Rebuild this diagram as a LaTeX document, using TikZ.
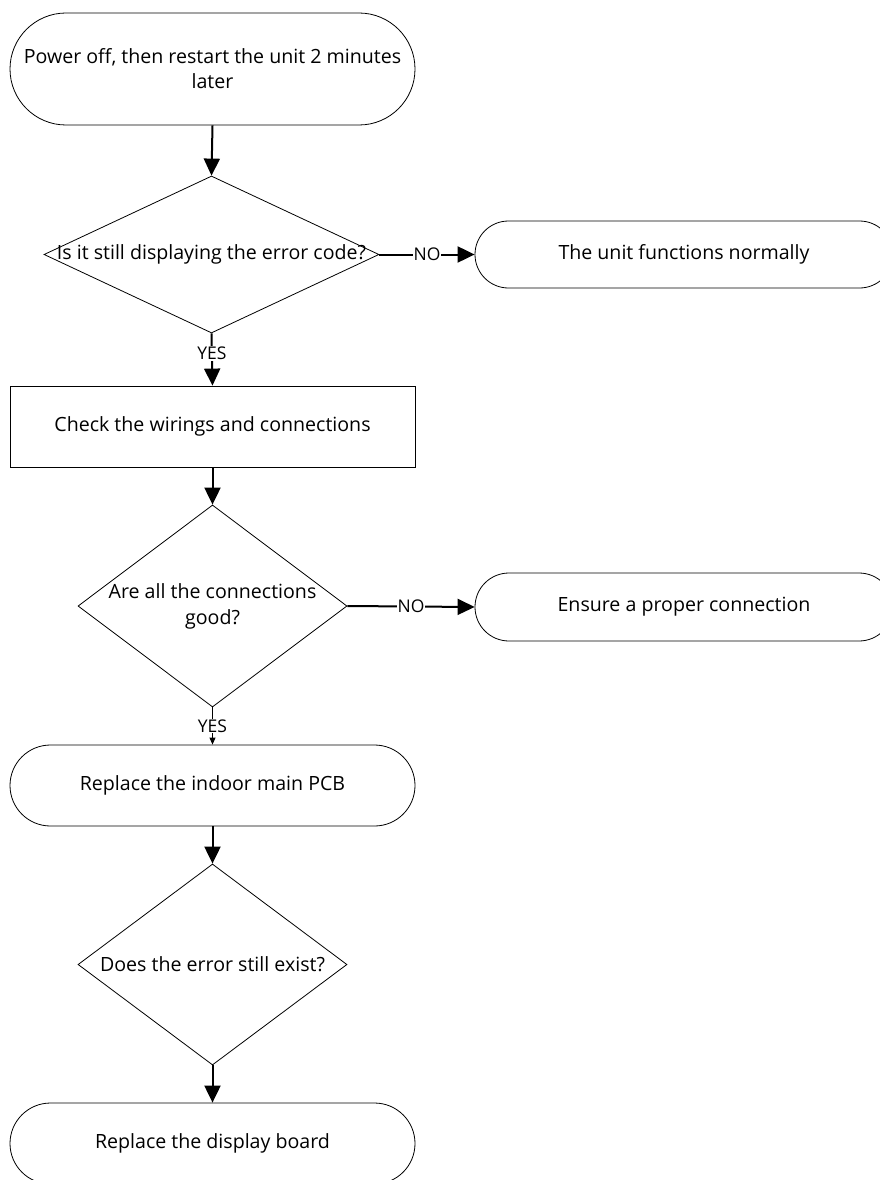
\documentclass[tikz,border=0pt]{standalone}
\usepackage{fontspec}
\setmainfont{Open Sans}
\usetikzlibrary{shapes.geometric,shapes.misc,arrows.meta}
\tikzset{
  term/.style={rounded rectangle, rounded rectangle arc length=180, draw=black, line width=0.8pt,
    minimum width=405pt, inner sep=0pt, font=\fontsize{19.6}{25}\selectfont, align=center},
  procbox/.style={rectangle, draw=black, line width=0.8pt, minimum width=405pt, minimum height=81pt,
    inner sep=0pt, font=\fontsize{19.6}{25}\selectfont},
  dia/.style={diamond, draw=black, line width=0.8pt, inner sep=0pt},
  lbl/.style={font=\fontsize{19.6}{26}\selectfont, align=center},
  arr/.style={line width=2pt, -{Triangle[width=16pt,length=17pt]}},
  thinarr/.style={line width=1pt, -{Triangle[width=6pt,length=7pt]}},
  yesno/.style={fill=white, inner sep=1pt, font=\fontsize{17.5}{20}\selectfont}
}
\begin{document}
\begin{tikzpicture}[x=1pt,y=-1pt]
\useasboundingbox (0,0) rectangle (880,1180);
\fill[white] (0,0) rectangle (880,1180);
\clip (0,0) rectangle (880,1180);

\node[term, minimum height=112pt] (t1) at (212.5,69) {Power off, then restart the unit 2 minutes\\later};
\node[dia, minimum width=335pt, minimum height=157pt,
  label={[lbl]center:Is it still displaying the error code?}] (d1) at (211.5,254.5) {};
\node[term, minimum width=418pt, minimum height=67pt] (r1) at (684,254.5) {The unit functions normally};
\node[procbox] (p1) at (212.5,426.5) {Check the wirings and connections};
\node[dia, minimum width=269pt, minimum height=202pt,
  label={[lbl]center:Are all the connections\\good?}] (d2) at (212.5,606) {};
\node[term, minimum width=418pt, minimum height=68pt] (r2) at (684,607) {Ensure a proper connection};
\node[term, minimum height=81pt] (t3) at (212.5,785.5) {Replace the indoor main PCB};
\node[dia, minimum width=269pt, minimum height=201pt,
  label={[lbl]center:Does the error still exist?}] (d3) at (212.5,964.5) {};
\node[term, minimum height=81pt] (t4) at (212.5,1143.5) {Replace the display board};

\draw[arr] (t1.south) -- (d1.north);
\draw[arr] (d1.east) -- node[yesno]{NO} (r1.west);
\draw[arr] (d1.south) -- node[yesno, pos=0.38]{YES} (p1.north);
\draw[arr] (p1.south) -- (d2.north);
\draw[arr] (d2.east) -- node[yesno, pos=0.5]{NO} (r2.west);
\draw[thinarr] (d2.south) -- node[yesno, pos=0.5]{YES} (t3.north);
\draw[arr] (t3.south) -- (d3.north);
\draw[arr] (d3.south) -- (t4.north);
\end{tikzpicture}
\end{document}
